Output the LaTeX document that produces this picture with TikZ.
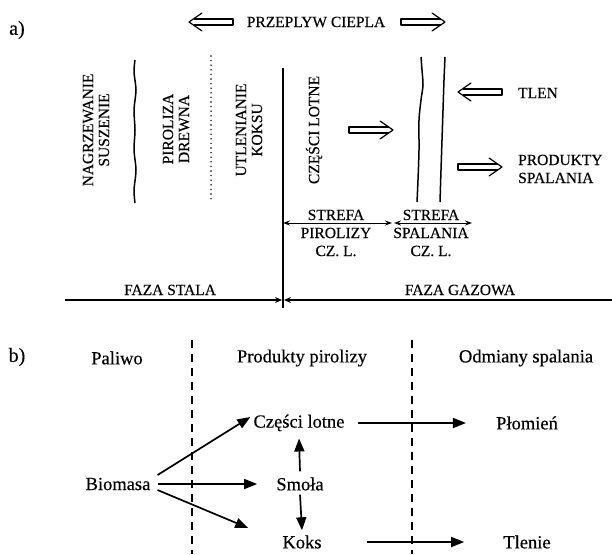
\documentclass[tikz,border=0pt]{standalone}
\usepackage{fontspec}
\setmainfont{Liberation Serif}[FakeBold=0.35]
\usetikzlibrary{arrows.meta,calc}
\begin{document}
\begin{tikzpicture}[x=1pt,y=-1pt,
  caps/.style={font=\fontsize{15.5}{16}\selectfont, inner sep=0pt, align=center},
  vcaps/.style={caps, rotate=90},
  lbl/.style={font=\fontsize{18.5}{20}\selectfont, inner sep=2pt},
  part/.style={font=\fontsize{20}{20}\selectfont, inner sep=0pt},
  flow/.style={line width=1.7pt, -{Triangle[length=13pt,width=10pt]}},
  divider/.style={line width=1.8pt, dash pattern=on 8pt off 6pt},
  span/.style={line width=1pt, {Stealth[length=7pt,width=5pt]}-{Stealth[length=7pt,width=5pt]}},
  phase/.style={line width=1.1pt},
  wavy/.style={line width=1.5pt, line join=round},
  harrow/.pic={
    \draw[line width=1.2pt, line join=round]
      (17.5,-3) -- (-22,-3) -- (-22,3) -- (17.5,3);
    \draw[line width=1.2pt, line join=round, line cap=round]
      (9,-9) -- (22,0) -- (9,9);
  }
]
\useasboundingbox (0,0) rectangle (612,554);

% ---------------- a) ----------------
\node[part] (pa) at (17,30) {a)};
\node[caps] (heat) at (316,22) {PRZEPLYW CIEPLA};
\pic[rotate=180] at (211,22) {harrow};
\pic at (423,22) {harrow};

% zone labels (vertical)
\node[vcaps] (dry)  at (96,130)  {NAGRZEWANIE\\SUSZENIE};
\node[vcaps] (pyro) at (176,129) {PIROLIZA\\DREWNA};
\node[vcaps] (oxid) at (249,130) {UTLENIANIE\\KOKSU};
\node[vcaps] (vol)  at (314,130) {CZĘŚCI LOTNE};

% zone boundaries
\draw[wavy] plot[smooth] coordinates {(135,60) (134,72) (136,90) (134,110) (135,130) (134,150) (136,170) (134,190) (135,203)};
\draw[line width=1.6pt, line cap=round, dash pattern=on 0pt off 4.6pt] (211,56) -- (211,200);
\coordinate (wtop) at (283,68);
\coordinate (wbot) at (283,308);
\draw[line width=1.3pt] (wtop) -- (wbot);

% flame front
\draw[wavy] plot[smooth] coordinates {(421,57) (422,70) (423,85) (421,100) (419,120) (419,150) (418,180) (417,202)};
\draw[wavy] plot[smooth] coordinates {(445,57) (444,80) (443,110) (442,140) (441,170) (440,202)};

% gas flows
\pic at (371,130) {harrow};
\pic[rotate=180] at (480,92) {harrow};
\pic at (480,167) {harrow};
\node[caps, anchor=west] (oxy) at (518,93) {TLEN};
\node[caps, anchor=base west] (prod1) at (518,165) {PRODUKTY};
\node[caps, anchor=base west] (prod2) at (518,183) {SPALANIA};

% zone widths
\coordinate (s1a) at (283,223);
\coordinate (s1b) at (392,223);
\coordinate (s2a) at (394,223);
\coordinate (s2b) at (472,223);
\draw[span] (s1a) -- (s1b);
\draw[span] (s2a) -- (s2b);
\node[caps, anchor=base] (sp1)  at (336,220) {STREFA};
\node[caps, anchor=base] (sp1b) at (336,238) {PIROLIZY};
\node[caps, anchor=base] (sp1c) at (336,256) {CZ. L.};
\node[caps, anchor=base] (sp2)  at (431,220) {STREFA};
\node[caps, anchor=base] (sp2b) at (431,238) {SPALANIA};
\node[caps, anchor=base] (sp2c) at (431,256) {CZ. L.};

% phases
\coordinate (f0) at (65,300);
\coordinate (f1) at (282,300);
\coordinate (f2) at (284,300);
\coordinate (f3) at (612,300);
\draw[phase, -{Stealth[length=7pt,width=6pt]}] (f0) -- (f1);
\draw[phase, {Stealth[length=7pt,width=6pt]}-] (f2) -- (f3);
\node[caps, anchor=base] (solid) at (170,295) {FAZA STALA};
\node[caps, anchor=base] (gas) at (460,295) {FAZA GAZOWA};

% ---------------- b) ----------------
\node[part] (pb) at (17,357) {b)};
\node[lbl] (h1) at (117,358) {Paliwo};
\node[lbl] (h2) at (302,358) {Produkty pirolizy};
\node[lbl] (h3) at (526,358) {Odmiany spalania};

\coordinate (d1a) at (192,340);
\coordinate (d1b) at (192,554);
\coordinate (d2a) at (412,340);
\coordinate (d2b) at (412,554);
\draw[divider] (d1a) -- (d1b);
\draw[divider] (d2a) -- (d2b);

\node[lbl] (bio)   at (118,484) {Biomasa};
\node[lbl] (cz)    at (299,423) {Części lotne};
\node[lbl] (smola) at (300,484) {Smoła};
\node[lbl] (koks)  at (302,542) {Koks};
\node[lbl] (flame) at (527,423) {Płomień};
\node[lbl] (glow)  at (527,542) {Tlenie};

\draw[flow] ($(bio.east)+(5,-9)$) -- ($(cz.west)+(-1,-6)$);
\draw[flow] ($(bio.east)+(5,0)$) -- ($(smola.west)+(-17,0)$);
\draw[flow] ($(bio.east)+(5,6)$) -- ($(koks.west)+(-32,-14)$);
\draw[flow] ($(smola.north)+(0,-4)$) -- ($(cz.south)+(0,5)$);
\draw[flow] ($(smola.south)+(0,2)$) -- ($(koks.north)+(0,-3)$);
\draw[flow] ($(cz.east)+(11,0)$) -- ($(flame.west)+(-28,0)$);
\draw[flow] ($(koks.east)+(43,0)$) -- ($(glow.west)+(-37,0)$);
\end{tikzpicture}
\end{document}
